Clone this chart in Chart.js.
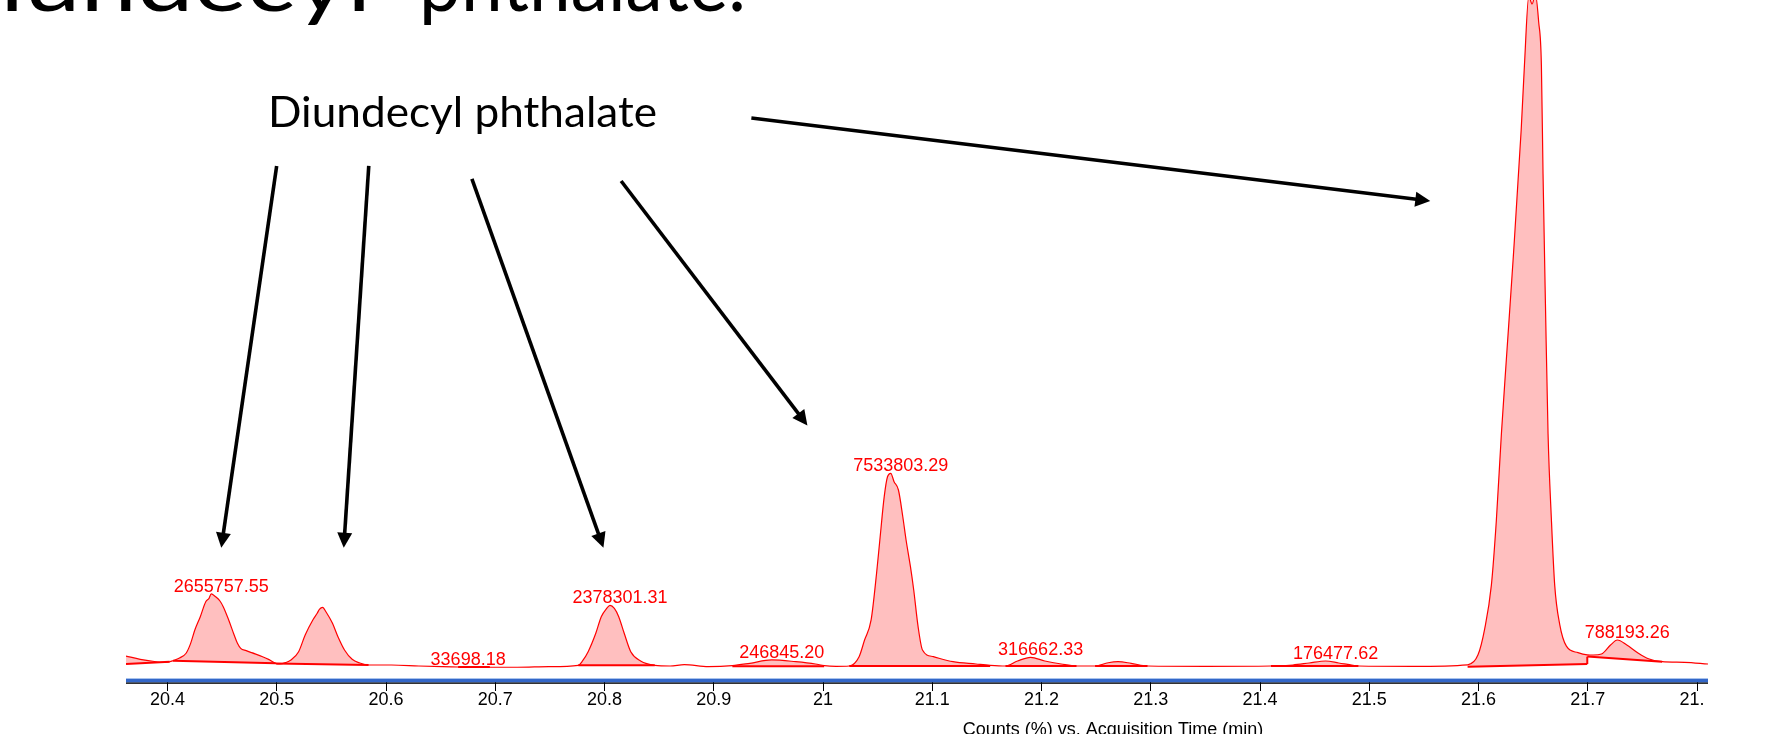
<!DOCTYPE html>
<html>
<head>
<meta charset="utf-8">
<script src="https://cdn.jsdelivr.net/npm/chart.js@4.4.1/dist/chart.umd.min.js"></script>
<style>
  html, body { margin: 0; padding: 0; background: #fff; }
</style>
</head>
<body>
<canvas id="chrom" width="1765" height="734"></canvas>
<script>
// chromatogram trace: time (min) and counts (% of largest peak)
const traceTime = [
	20.362, 20.375, 20.388, 20.395, 20.402, 20.405, 20.411, 20.417, 20.421, 20.425,
	20.430, 20.435, 20.438, 20.440, 20.442, 20.444, 20.448, 20.451, 20.456, 20.461,
	20.464, 20.467, 20.472, 20.477, 20.487, 20.493, 20.499, 20.503, 20.508, 20.513,
	20.520, 20.526, 20.533, 20.537, 20.539, 20.542, 20.545, 20.551, 20.556, 20.562,
	20.569, 20.576, 20.584, 20.605, 20.630, 20.651, 20.666, 20.680, 20.695, 20.720,
	20.749, 20.776, 20.780, 20.785, 20.792, 20.797, 20.802, 20.805, 20.809, 20.813,
	20.818, 20.824, 20.833, 20.846, 20.860, 20.873, 20.895, 20.917, 20.933, 20.953,
	20.975, 20.993, 21.001, 21.012, 21.024, 21.033, 21.038, 21.044, 21.049, 21.052,
	21.056, 21.059, 21.062, 21.065, 21.069, 21.073, 21.076, 21.080, 21.083, 21.087,
	21.091, 21.101, 21.119, 21.140, 21.153, 21.167, 21.178, 21.190, 21.203, 21.218,
	21.232, 21.249, 21.261, 21.270, 21.282, 21.297, 21.350, 21.410, 21.430, 21.445,
	21.460, 21.472, 21.485, 21.490, 21.540, 21.590, 21.5995, 21.6056, 21.6117, 21.6163,
	21.6209, 21.6254, 21.6316, 21.639, 21.642, 21.646, 21.649, 21.652, 21.655, 21.6575,
	21.659, 21.6612, 21.6636, 21.6667, 21.6697, 21.6743, 21.6804, 21.691, 21.6995, 21.705,
	21.7125, 21.7208, 21.727, 21.7357, 21.7456, 21.7555, 21.768, 21.7886, 21.810
];
const traceCounts = [
	1.49, 1.00, 0.67, 0.55, 0.63, 0.79, 1.20, 1.90, 3.30, 5.37,
	7.36, 9.60, 10.10, 10.75, 10.60, 10.34, 9.70, 8.85, 6.87, 4.63,
	3.40, 2.64, 2.30, 1.99, 1.39, 0.95, 0.40, 0.30, 0.50, 0.90,
	2.13, 4.63, 6.87, 7.87, 8.46, 8.76, 8.10, 6.37, 4.37, 2.39,
	1.00, 0.45, 0.15, 0.15, 0.00, -0.10, -0.15, -0.16, -0.19, -0.19,
	-0.10, 0.10, 0.79, 2.13, 4.88, 7.36, 8.61, 9.06, 8.61, 7.36,
	4.88, 2.13, 0.75, 0.10, 0.00, 0.20, -0.10, 0.05, 0.40, 0.90,
	0.64, 0.30, 0.05, -0.05, 0.00, 1.39, 3.88, 6.87, 13.84, 18.81,
	25.27, 28.25, 28.76, 27.51, 26.27, 22.28, 18.81, 14.82, 11.34, 5.87,
	2.39, 1.39, 0.64, 0.30, 0.10, 0.00, 0.75, 1.30, 0.75, 0.30,
	0.00, 0.00, 0.49, 0.64, 0.40, 0.00, -0.05, 0.00, 0.15, 0.45,
	0.75, 0.45, 0.10, 0.00, -0.05, 0.18, 1.67, 5.55, 12.03, 21.79,
	34.67, 45.67, 60.60, 80.00, 89.70, 100.0, 98.80, 100.3, 96.16, 89.70,
	73.51, 54.09, 34.67, 21.73, 12.03, 6.19, 2.96, 1.99, 1.67, 1.64,
	1.79, 3.13, 3.88, 3.13, 1.99, 1.09, 0.64, 0.55, 0.30
];

// integrated peaks: window, baseline ends, area label
const intStart = [20.362, 20.405, 20.499, 20.666, 20.776, 20.917, 21.024, 21.167, 21.249, 21.410, 21.590, 21.6995];
const intEnd = [20.402, 20.499, 20.584, 20.695, 20.846, 21.001, 21.153, 21.232, 21.297, 21.490, 21.6995, 21.768];
const baseStart = [0.30, 0.79, 0.37, -0.15, 0.10, -0.05, 0.00, 0.00, 0.00, 0.00, -0.10, 1.40];
const baseEnd = [0.63, 0.40, 0.15, -0.15, 0.10, -0.05, 0.00, 0.00, 0.00, 0.00, 0.30, 0.64];
const areaLabels = [null, "2655757.55", null, "33698.18", "2378301.31", "246845.20", "7533803.29", "316662.33", null, "176477.62", null, "788193.26"];

// callout arrows, in (time, counts) so they follow the axes
const arrows = [
	{ from: [20.4999, 74.63], to: [20.4492, 17.66] },
	{ from: [20.5842, 74.63], to: [20.5613, 17.66] },
	{ from: [20.6786, 72.69], to: [20.7990, 17.66] },
	{ from: [20.8152, 72.39], to: [20.9857, 35.90] },
	{ from: [20.9344, 81.79], to: [21.5558, 69.40] },
];

const RED = "#ff0000";
const FILL = "rgba(255,0,0,0.25)";
const CHART_FONT = "'Liberation Sans', Arial, sans-serif";
const SLIDE_FONT = "Lato, 'Open Sans', sans-serif";

const tracePoints = traceTime.map((t, i) => ({ x: t, y: traceCounts[i] }));

let datasets = [];
datasets.push({
	data: tracePoints,
	borderColor: RED,
	borderWidth: 1.2,
	pointRadius: 0,
	cubicInterpolationMode: "monotone",
	fill: false,
	order: 0,
});

for (let i = 0; i < intStart.length; i++) {
	const slice = tracePoints.filter((p) => p.x >= intStart[i] && p.x <= intEnd[i]);
	const idx = datasets.length;
	datasets.push({
		data: slice,
		borderWidth: 0,
		borderColor: "rgba(0,0,0,0)",
		backgroundColor: FILL,
		pointRadius: 0,
		cubicInterpolationMode: "monotone",
		fill: idx + 1,
		order: 2,
	});
	datasets.push({
		data: [
			{ x: intStart[i], y: baseStart[i] },
			{ x: intEnd[i], y: baseEnd[i] },
		],
		borderColor: RED,
		borderWidth: 2,
		pointRadius: 0,
		fill: false,
		order: 1,
	});
}
// step between the two baselines of the big peak and its neighbour
datasets.push({
	data: [
		{ x: intEnd[10], y: baseEnd[10] },
		{ x: intStart[11], y: baseStart[11] },
	],
	borderColor: RED,
	borderWidth: 2,
	pointRadius: 0,
	fill: false,
	order: 1,
});

const decor = {
	id: "decor",
	afterDatasetsDraw(chart) {
		const { ctx, scales } = chart;
		const x = scales.x;
		const y = scales.y;

		// peak area labels, just above each apex
		ctx.save();
		ctx.font = "18px " + CHART_FONT;
		ctx.fillStyle = RED;
		ctx.textAlign = "center";
		ctx.textBaseline = "middle";
		for (let i = 0; i < areaLabels.length; i++) {
			if (!areaLabels[i]) continue;
			let best = null;
			for (const p of tracePoints) {
				if (p.x < intStart[i] || p.x > intEnd[i]) continue;
				if (!best || p.y > best.y) best = p;
			}
			ctx.fillText(
				areaLabels[i],
				x.getPixelForValue(best.x) + 10,
				y.getPixelForValue(best.y) - 7
			);
		}
		ctx.restore();
	},
	afterDraw(chart) {
		const { ctx, chartArea, scales } = chart;
		const x = scales.x;
		const y = scales.y;

		ctx.save();
		// blue double axis band + black line
		const b = chartArea.bottom;
		const w = chartArea.right - chartArea.left;
		ctx.fillStyle = "#a9c3ec";
		ctx.fillRect(chartArea.left, b - 1, w, 1);
		ctx.fillStyle = "#3367c9";
		ctx.fillRect(chartArea.left, b, w, 3.5);
		ctx.fillStyle = "#000";
		ctx.fillRect(chartArea.left, b + 3.5, w, 1.3);

		// the picture is cropped right after the axis
		ctx.fillStyle = "#fff";
		ctx.fillRect(chartArea.right - 5, b + 9, 90, 30);

		// axis title (cut by the bottom edge)
		ctx.fillStyle = "#000";
		ctx.font = "18px " + CHART_FONT;
		ctx.textAlign = "center";
		ctx.textBaseline = "alphabetic";
		ctx.fillText("Counts (%) vs. Acquisition Time (min)", 1113, 735);

		// arrows
		ctx.strokeStyle = "#000";
		ctx.fillStyle = "#000";
		ctx.lineWidth = 3.6;
		for (const a of arrows) {
			const x0 = x.getPixelForValue(a.from[0]);
			const y0 = y.getPixelForValue(a.from[1]);
			const x1 = x.getPixelForValue(a.to[0]);
			const y1 = y.getPixelForValue(a.to[1]);
			const ang = Math.atan2(y1 - y0, x1 - x0);
			const head = 15;
			const c = Math.cos(ang);
			const s = Math.sin(ang);
			ctx.beginPath();
			ctx.moveTo(x0, y0);
			ctx.lineTo(x1 - c * head * 0.8, y1 - s * head * 0.8);
			ctx.stroke();
			ctx.beginPath();
			ctx.moveTo(x1, y1);
			ctx.lineTo(x1 - c * head + s * 7.5, y1 - s * head - c * 7.5);
			ctx.lineTo(x1 - c * head - s * 7.5, y1 - s * head + c * 7.5);
			ctx.closePath();
			ctx.fill();
		}

		// callout text
		const callout = "Diundecyl phthalate";
		ctx.font = "42px " + SLIDE_FONT;
		ctx.textAlign = "left";
		let cw = ctx.measureText(callout).width;
		ctx.save();
		ctx.translate(268, 127);
		ctx.scale(389 / cw, 1);
		ctx.fillText(callout, 0, 0);
		ctx.restore();

		// slide title, mostly above the picture (its start is cut off on the left)
		ctx.font = "80px " + SLIDE_FONT;
		const sx2 = 327 / ctx.measureText("phthalate.").width;
		const sx1 = 371 / ctx.measureText("iundecyl").width;
		ctx.save();
		ctx.translate(0, 11);
		ctx.save();
		ctx.scale(sx1, 1);
		ctx.textAlign = "right";
		ctx.fillText("Diundecyl", 371 / sx1, 0);
		ctx.restore();
		ctx.scale(sx2, 1);
		ctx.textAlign = "left";
		ctx.fillText("phthalate.", 419 / sx2, 0);
		ctx.restore();
		ctx.restore();
	},
};

new Chart(document.getElementById("chrom"), {
	type: "line",
	data: { datasets: datasets },
	options: {
		responsive: false,
		animation: false,
		events: [],
		layout: { padding: { left: 126, right: 57, top: 0, bottom: 0 } },
		plugins: {
			legend: { display: false },
			tooltip: { enabled: false },
		},
		elements: { line: { tension: 0 } },
		scales: {
			x: {
				type: "linear",
				min: 20.362,
				max: 21.81,
				afterFit: (s) => {
					s.height = 55;
				},
				border: { display: false },
				grid: {
					drawOnChartArea: false,
					drawTicks: true,
					tickLength: 12,
					color: "#000",
				},
				ticks: {
					stepSize: 0.1,
					includeBounds: false,
					autoSkip: false,
					maxRotation: 0,
					padding: -2,
					color: "#000",
					font: { family: CHART_FONT, size: 18 },
					callback: (v) => String(Math.round(v * 10) / 10),
				},
			},
			y: {
				type: "linear",
				display: false,
				min: -1.94,
				max: 99.4,
			},
		},
	},
	plugins: [decor],
});
</script>
</body>
</html>
